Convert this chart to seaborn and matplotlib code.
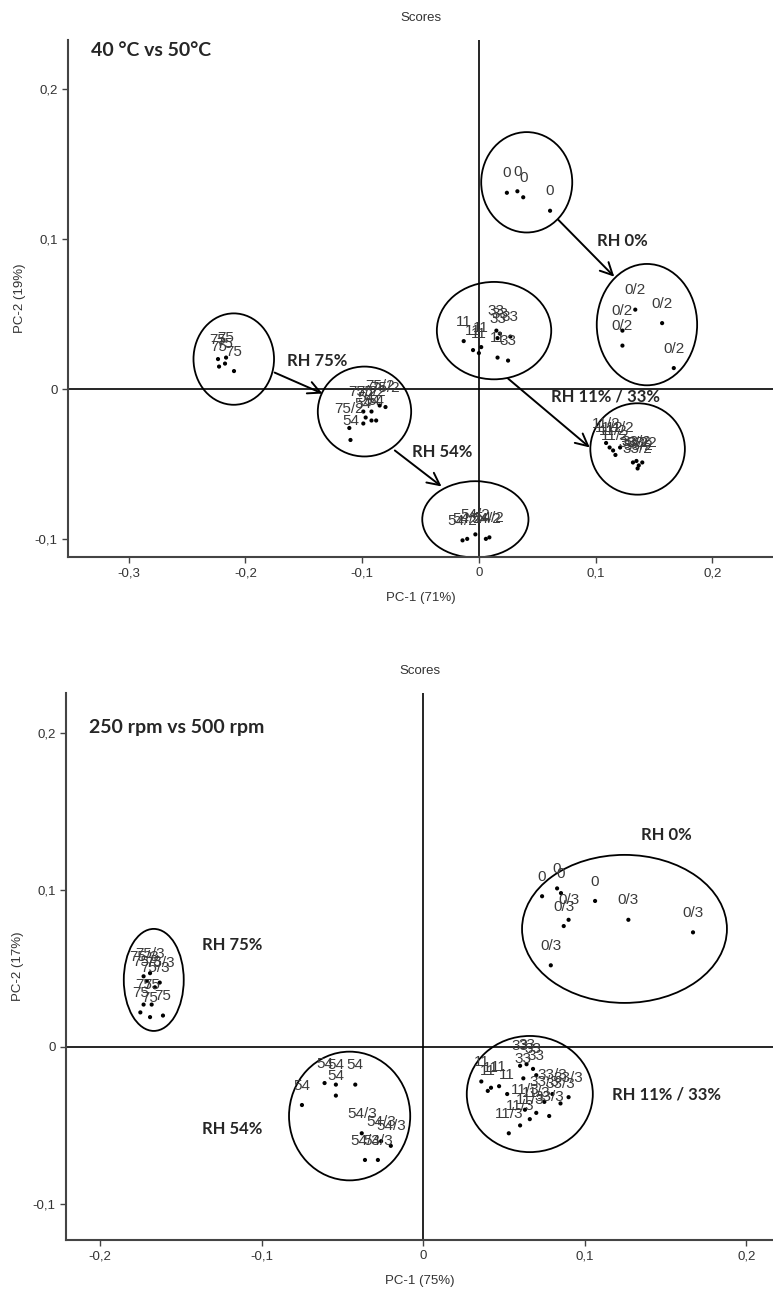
import numpy as np
import pandas as pd
import matplotlib
matplotlib.use("Agg")
import matplotlib.pyplot as plt
import seaborn as sns
from matplotlib.patches import Ellipse

sns.set_style("white")
plt.rcParams["font.family"] = ["Liberation Sans", "DejaVu Sans"]

# ---------------- Top panel: 40 °C vs 50 °C ----------------
top_0_x = [0.024, 0.033, 0.038, 0.061]
top_0_y = [0.131, 0.132, 0.128, 0.119]
top_02_x = [0.134, 0.157, 0.123, 0.123, 0.167]
top_02_y = [0.053, 0.044, 0.039, 0.029, 0.014]
top_75_x = [-0.2235, -0.2166, -0.2175, -0.2226, -0.2098]
top_75_y = [0.020, 0.021, 0.017, 0.015, 0.012]
top_11_x = [-0.013, -0.005, 0.000, 0.002, 0.016]
top_11_y = [0.032, 0.026, 0.024, 0.028, 0.021]
top_33_x = [0.015, 0.018, 0.016, 0.027, 0.025]
top_33_y = [0.039, 0.037, 0.034, 0.035, 0.019]
top_752_x = [-0.111, -0.099, -0.092, -0.080, -0.085]
top_752_y = [-0.026, -0.015, -0.015, -0.012, -0.011]
top_54_x = [-0.110, -0.097, -0.092, -0.088, -0.099]
top_54_y = [-0.034, -0.019, -0.021, -0.021, -0.023]
top_112_x = [0.109, 0.112, 0.115, 0.117, 0.121]
top_112_y = [-0.036, -0.039, -0.041, -0.044, -0.039]
top_332_x = [0.132, 0.135, 0.137, 0.136, 0.140]
top_332_y = [-0.049, -0.048, -0.051, -0.053, -0.049]
top_542_x = [-0.014, -0.010, -0.003, 0.006, 0.009]
top_542_y = [-0.101, -0.100, -0.097, -0.100, -0.099]

top_groups = [("0", top_0_x, top_0_y), ("0/2", top_02_x, top_02_y),
              ("75", top_75_x, top_75_y), ("11", top_11_x, top_11_y),
              ("33", top_33_x, top_33_y), ("75/2", top_752_x, top_752_y),
              ("54", top_54_x, top_54_y), ("11/2", top_112_x, top_112_y),
              ("33/2", top_332_x, top_332_y), ("54/2", top_542_x, top_542_y)]

# cluster ellipses: centre x, centre y, width, height (data units)
top_ell_cx = [0.041, 0.144, -0.210, 0.013, -0.098, 0.136, -0.003]
top_ell_cy = [0.138, 0.043, 0.020, 0.039, -0.015, -0.040, -0.087]
top_ell_w = [0.078, 0.086, 0.069, 0.098, 0.080, 0.081, 0.091]
top_ell_h = [0.067, 0.081, 0.061, 0.065, 0.060, 0.061, 0.051]

# arrows (start -> end) and their labels
top_arr_x0 = [0.068, -0.175, -0.072, 0.025]
top_arr_y0 = [0.113, 0.011, -0.041, 0.007]
top_arr_x1 = [0.116, -0.134, -0.032, 0.095]
top_arr_y1 = [0.075, -0.003, -0.065, -0.039]
top_rh_text = ["RH 0%", "RH 75%", "RH 54%", "RH 11% / 33%"]
top_rh_x = [0.101, -0.164, -0.057, 0.062]
top_rh_y = [0.099, 0.019, -0.042, -0.005]

# ---------------- Bottom panel: 250 rpm vs 500 rpm ----------------
bot_0_x = [0.0736, 0.0829, 0.0853, 0.1064]
bot_0_y = [0.096, 0.101, 0.098, 0.093]
bot_03_x = [0.090, 0.087, 0.127, 0.167, 0.079]
bot_03_y = [0.081, 0.077, 0.081, 0.073, 0.052]
bot_753_x = [-0.173, -0.169, -0.163, -0.166, -0.171]
bot_753_y = [0.045, 0.047, 0.041, 0.038, 0.042]
bot_75_x = [-0.173, -0.168, -0.175, -0.169, -0.161]
bot_75_y = [0.027, 0.027, 0.022, 0.019, 0.020]
bot_54_x = [-0.061, -0.054, -0.042, -0.054, -0.075]
bot_54_y = [-0.023, -0.024, -0.024, -0.031, -0.037]
bot_543_x = [-0.038, -0.026, -0.020, -0.036, -0.028]
bot_543_y = [-0.055, -0.060, -0.063, -0.072, -0.072]
bot_11_x = [0.036, 0.042, 0.047, 0.052, 0.040]
bot_11_y = [-0.022, -0.026, -0.025, -0.030, -0.028]
bot_33_x = [0.060, 0.064, 0.068, 0.062, 0.070]
bot_33_y = [-0.012, -0.011, -0.014, -0.020, -0.018]
bot_113_x = [0.053, 0.060, 0.066, 0.070, 0.063]
bot_113_y = [-0.055, -0.050, -0.046, -0.042, -0.040]
bot_333_x = [0.075, 0.080, 0.085, 0.090, 0.078]
bot_333_y = [-0.035, -0.030, -0.036, -0.032, -0.044]

bot_groups = [("0", bot_0_x, bot_0_y), ("0/3", bot_03_x, bot_03_y),
              ("75/3", bot_753_x, bot_753_y), ("75", bot_75_x, bot_75_y),
              ("54", bot_54_x, bot_54_y), ("54/3", bot_543_x, bot_543_y),
              ("11", bot_11_x, bot_11_y), ("33", bot_33_x, bot_33_y),
              ("11/3", bot_113_x, bot_113_y), ("33/3", bot_333_x, bot_333_y)]

bot_ell_cx = [0.1246, -0.1667, -0.0455, 0.066]
bot_ell_cy = [0.0752, 0.0427, -0.044, -0.030]
bot_ell_w = [0.1268, 0.0371, 0.075, 0.078]
bot_ell_h = [0.0943, 0.065, 0.082, 0.074]

bot_rh_text = ["RH 0%", "RH 75%", "RH 54%", "RH 11% / 33%"]
bot_rh_x = [0.135, -0.137, -0.137, 0.117]
bot_rh_y = [0.135, 0.065, -0.052, -0.030]


def fmt(v):
    if abs(v) < 1e-9:
        return "0"
    return ("%.1f" % v).replace(".", ",")


def draw_panel(ax, groups, ell, arrows, rh, xlim, ylim, xticks, yticks,
               xlabel, ylabel, heading, heading_y):
    frames = []
    for lab, xs, ys in groups:
        frames.append(pd.DataFrame({"pc1": xs, "pc2": ys, "lab": lab}))
    df = pd.concat(frames, ignore_index=True)
    ax.axhline(0, color="black", lw=1.2, zorder=1)
    ax.axvline(0, color="black", lw=1.2, zorder=1)
    sns.scatterplot(data=df, x="pc1", y="pc2", ax=ax, color="black", s=9,
                    edgecolor="none", zorder=3, legend=False)
    for _, r in df.iterrows():
        ax.annotate(r["lab"], (r["pc1"], r["pc2"]), xytext=(0, 14),
                    textcoords="offset points", ha="center", va="center",
                    fontsize=11, color="#3a3a3a", zorder=4)
    for cx, cy, w, h in zip(*ell):
        ax.add_patch(Ellipse((cx, cy), w, h, fill=False, ec="black",
                             lw=1.3, zorder=2))
    if arrows is not None:
        for x0, y0, x1, y1 in zip(*arrows):
            ax.annotate("", xy=(x1, y1), xytext=(x0, y0),
                        arrowprops=dict(arrowstyle="->", color="black",
                                        lw=1.4, mutation_scale=22,
                                        shrinkA=0, shrinkB=0))
    for t, x, y in zip(*rh):
        ax.text(x, y, t, ha="left", va="center", fontsize=12,
                fontweight="bold", family=["Lato", "DejaVu Sans"])
    ax.text(0.033, heading_y, heading, transform=ax.transAxes, ha="left",
            va="center", fontsize=14, fontweight="bold",
            family=["Lato", "DejaVu Sans"])
    ax.set_xlim(*xlim)
    ax.set_ylim(*ylim)
    ax.set_xticks(xticks)
    ax.set_xticklabels([fmt(v) for v in xticks])
    ax.set_yticks(yticks)
    ax.set_yticklabels([fmt(v) for v in yticks])
    ax.set_xlabel(xlabel, fontsize=9.5, color="#333333", labelpad=9)
    ax.set_ylabel(ylabel, fontsize=9.5, color="#333333", labelpad=6)
    ax.set_title("Scores", fontsize=9.5, color="#333333", pad=14)
    for s in ["top", "right"]:
        ax.spines[s].set_visible(False)
    for s in ["left", "bottom"]:
        ax.spines[s].set_color("#444444")
        ax.spines[s].set_linewidth(1.5)
    ax.tick_params(axis="both", direction="out", length=4, width=1,
                   colors="#444444", labelsize=9.5, labelcolor="#333333",
                   left=True, bottom=True)


fig = plt.figure(figsize=(7.73, 12.89), dpi=100)
ax1 = fig.add_axes([0.088, 0.568, 0.912, 0.401])
ax2 = fig.add_axes([0.0854, 0.038, 0.9146, 0.4244])

draw_panel(ax1, top_groups,
           (top_ell_cx, top_ell_cy, top_ell_w, top_ell_h),
           (top_arr_x0, top_arr_y0, top_arr_x1, top_arr_y1),
           (top_rh_text, top_rh_x, top_rh_y),
           (-0.352, 0.252), (-0.112, 0.233),
           [-0.3, -0.2, -0.1, 0, 0.1, 0.2], [-0.1, 0, 0.1, 0.2],
           "PC-1 (71%)", "PC-2 (19%)", "40 °C vs 50°C", 0.98)
draw_panel(ax2, bot_groups,
           (bot_ell_cx, bot_ell_cy, bot_ell_w, bot_ell_h),
           None,
           (bot_rh_text, bot_rh_x, bot_rh_y),
           (-0.221, 0.2165), (-0.123, 0.2255),
           [-0.2, -0.1, 0, 0.1, 0.2], [-0.1, 0, 0.1, 0.2],
           "PC-1 (75%)", "PC-2 (17%)", "250 rpm vs 500 rpm", 0.936)

fig.savefig("out.png", dpi=100)
